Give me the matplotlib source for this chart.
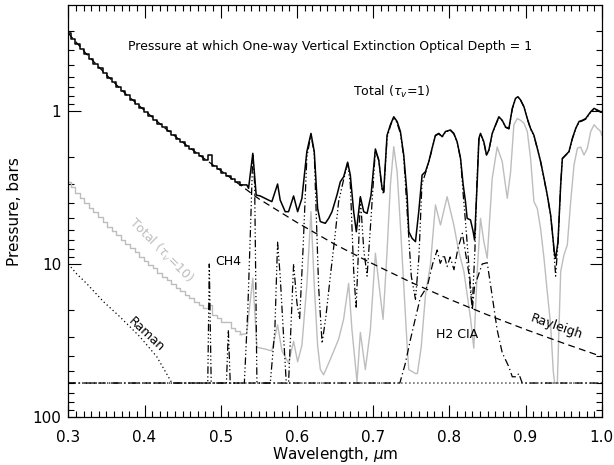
import matplotlib
matplotlib.use("Agg")
import matplotlib.pyplot as plt
from matplotlib.ticker import FixedLocator, FixedFormatter, NullFormatter

# ---- short-wave grid (microns), drawn as steps ----
blue_wl = [0.300, 0.306, 0.312, 0.318, 0.324, 0.330, 0.336, 0.342, 0.348, 0.354,
           0.360, 0.366, 0.372, 0.378, 0.384, 0.390, 0.396, 0.402, 0.408, 0.414,
           0.420, 0.426, 0.432, 0.438, 0.444, 0.450, 0.456, 0.462, 0.468, 0.474,
           0.480, 0.486, 0.492, 0.498, 0.504, 0.510, 0.516, 0.522, 0.528]
total_blue = [0.31, 0.336, 0.363, 0.392, 0.423, 0.456, 0.490, 0.527, 0.565, 0.606,
              0.649, 0.694, 0.741, 0.790, 0.843, 0.897, 0.954, 1.01, 1.08, 1.14,
              1.21, 1.28, 1.36, 1.44, 1.52, 1.60, 1.69, 1.78, 1.88, 1.98,
              2.08, 1.94, 2.30, 2.41, 2.54, 2.66, 2.79, 2.92, 3.04]
total10_blue = [2.9, 3.16, 3.41, 3.68, 3.98, 4.29, 4.6, 4.95, 5.3, 5.7,
                6.1, 6.5, 7.0, 7.4, 7.9, 8.4, 9.0, 9.5, 10.1, 10.7,
                11.4, 12.1, 12.8, 13.5, 14.3, 15.0, 15.9, 16.7, 17.7, 18.6,
                19.5, 18.5, 21.6, 22.7, 23.9, 24.0, 26.2, 27.5, 28.8]

# ---- total, tau_v = 1 (long-wave part) ----
total_wl = [0.5255, 0.5343, 0.5365, 0.5421, 0.5465, 0.5518, 0.5627, 0.5671, 0.5746, 0.578,
            0.5846, 0.589, 0.5956, 0.6009, 0.6065, 0.613, 0.6184, 0.6227, 0.6271, 0.6306,
            0.6372, 0.6416, 0.646, 0.6525, 0.6569, 0.6613, 0.6665, 0.670, 0.6744, 0.6779,
            0.6832, 0.6876, 0.692, 0.6972, 0.7029, 0.7073, 0.7117, 0.7138, 0.7182, 0.7226,
            0.727, 0.7314, 0.7357, 0.7401, 0.7445, 0.7467, 0.7511, 0.7555, 0.7598, 0.7642,
            0.7686, 0.773, 0.7773, 0.7817, 0.7861, 0.7905, 0.7949, 0.8014, 0.8058, 0.8102,
            0.8146, 0.8181, 0.8211, 0.8233, 0.8277, 0.8312, 0.833, 0.8365, 0.8387, 0.8408,
            0.8452, 0.8487, 0.8518, 0.8562, 0.8606, 0.8649, 0.8693, 0.8737, 0.8781, 0.8825,
            0.8868, 0.8899, 0.8934, 0.8978, 0.9022, 0.9065, 0.9109, 0.9153, 0.9197, 0.9241,
            0.9284, 0.9328, 0.9363, 0.9381, 0.9394, 0.9425, 0.946, 0.9482, 0.9525, 0.9569,
            0.9613, 0.9657, 0.9701, 0.9744, 0.9788, 0.9854, 0.9898, 0.9941, 0.9985, 1.0]
total_p = [3.04, 3.04, 3.20, 1.89, 3.54, 3.59, 3.82, 3.91, 3.00, 3.82,
           4.55, 4.55, 3.59, 4.55, 3.72, 1.84, 1.40, 1.84, 4.33, 5.28,
           5.42, 5.03, 4.55, 3.54, 2.90, 2.69, 2.16, 2.62, 4.55, 6.15,
           3.63, 4.55, 4.67, 3.54, 1.77, 2.09, 3.20, 3.37, 1.44, 1.23,
           1.09, 1.17, 1.36, 1.94, 3.54, 6.15, 6.80, 7.14, 4.55, 2.62,
           2.49, 2.14, 1.75, 1.44, 1.40, 1.47, 1.36, 1.33, 1.40, 1.59,
           2.04, 3.04, 3.91, 5.03, 5.15, 6.15, 6.97, 2.90, 1.51, 1.40,
           1.59, 1.94, 1.80, 1.40, 1.23, 1.09, 1.15, 1.27, 1.30, 0.961,
           0.826, 0.806, 0.847, 0.937, 1.12, 1.30, 1.44, 1.75, 2.14, 2.75,
           3.54, 4.78, 7.14, 8.73, 9.18, 7.14, 3.04, 2.04, 1.94, 1.84,
           1.51, 1.30, 1.17, 1.15, 1.12, 1.01, 0.961, 0.985, 1.01, 1.01]

# ---- total, tau_v = 10 (long-wave part) ----
total10_wl = [0.5255, 0.534, 0.5421, 0.5474, 0.5584, 0.567, 0.5746, 0.5803, 0.589, 0.5956,
              0.6009, 0.6065, 0.613, 0.6184, 0.6227, 0.6271, 0.6307, 0.635, 0.6438, 0.6547,
              0.6612, 0.6678, 0.6722, 0.6788, 0.6832, 0.6897, 0.6963, 0.7029, 0.7094, 0.713,
              0.7182, 0.7226, 0.727, 0.7314, 0.7357, 0.7401, 0.7445, 0.7467, 0.7511, 0.7555,
              0.758, 0.763, 0.7686, 0.7751, 0.7817, 0.7883, 0.797, 0.8058, 0.8124, 0.819,
              0.8277, 0.832, 0.8365, 0.8408, 0.8452, 0.8496, 0.8562, 0.8627, 0.8693, 0.8759,
              0.8803, 0.8846, 0.889, 0.8934, 0.8978, 0.9022, 0.9065, 0.9109, 0.9153, 0.9197,
              0.9241, 0.9284, 0.9328, 0.9363, 0.9381, 0.9416, 0.946, 0.9503, 0.9547, 0.9591,
              0.9635, 0.9679, 0.9722, 0.9766, 0.981, 0.9854, 0.9898, 0.9941, 0.9985, 1.0]
total10_p = [29, 28.5, 12.4, 35, 36, 37, 25, 37, 44.5, 32,
             43.6, 34, 13.7, 4.55, 13.7, 34, 49, 53, 42, 31,
             23, 13.4, 27, 59, 28, 49, 27, 8.5, 16.3, 23,
             8.3, 3.04, 1.71, 2.49, 5.56, 13.7, 33.8, 49, 50.5, 52,
             52, 35, 16, 10.1, 4.11, 5.56, 3.63, 5.56, 8.30, 11.2,
             22.6, 35.5, 11.2, 5.03, 7.14, 9.18, 2.75, 1.72, 2.14, 3.72,
             2.49, 1.23, 1.12, 1.15, 1.20, 1.36, 2.04, 3.91, 4.33, 5.9,
             9.18, 15.2, 25, 50.5, 60, 60, 11.2, 8.73, 7.51, 3.91,
             2.25, 1.75, 1.72, 1.94, 1.75, 1.36, 1.23, 1.30, 1.36, 1.44]

# ---- single-opacity-source curves ----
rayleigh_wl = [0.30, 0.325, 0.35, 0.375, 0.40, 0.425, 0.45, 0.475, 0.50, 0.55,
               0.60, 0.65, 0.70, 0.75, 0.80, 0.85, 0.90, 0.95, 1.00]
rayleigh_p = [0.31, 0.43, 0.58, 0.77, 0.99, 1.27, 1.60, 1.99, 2.45, 3.75,
              5.35, 7.45, 10.0, 13.2, 17.0, 21.5, 26.8, 33.0, 40.3]

raman_wl = [0.300, 0.311, 0.324, 0.346, 0.368, 0.394, 0.416, 0.436, 1.0]
raman_p = [10.0, 11.6, 13.4, 17.6, 22.2, 29.9, 40.3, 60, 60]

ch4_wl = [0.300, 0.483, 0.485, 0.4875, 0.5075, 0.510, 0.5125, 0.531, 0.5355, 0.539,
          0.5421, 0.5445, 0.5475, 0.565, 0.571, 0.5746, 0.578, 0.582, 0.586, 0.589,
          0.5956, 0.600, 0.6035, 0.608, 0.613, 0.6184, 0.6227, 0.626, 0.6284, 0.633,
          0.638, 0.6438, 0.650, 0.6547, 0.6613, 0.6665, 0.670, 0.6744, 0.6776, 0.680,
          0.6832, 0.6876, 0.692, 0.6972, 0.7029, 0.7073, 0.7117, 0.7138, 0.7182, 0.7226,
          0.727, 0.7314, 0.7357, 0.7401, 0.7445, 0.750, 0.7555, 0.760, 0.764, 0.7686,
          0.773, 0.7773, 0.7817, 0.7861, 0.7905, 0.7949, 0.8014, 0.8058, 0.8102, 0.8146,
          0.8181, 0.822, 0.826, 0.830, 0.8335, 0.836, 0.8387, 0.8408, 0.8452, 0.8487,
          0.8518, 0.8562, 0.8606, 0.8649, 0.8693, 0.8737, 0.8781, 0.8825, 0.8868, 0.8899,
          0.8934, 0.8978, 0.9022, 0.9065, 0.9109, 0.9153, 0.9197, 0.9241, 0.9284, 0.9328,
          0.9363, 0.9394, 0.9425, 0.946, 0.9482, 0.9525, 0.9569, 0.9613, 0.9657, 0.9701,
          0.9744, 0.9788, 0.9854, 0.9898, 0.9941, 0.9985, 1.0]
ch4_p = [60, 60, 10, 60, 60, 27, 60, 60, 20, 6,
         1.9, 3.0, 60, 60, 27, 7.2, 12, 27, 60, 60,
         10, 18, 23, 8, 2.0, 1.42, 1.9, 6, 14, 33,
         22, 12, 6.5, 3.9, 2.8, 2.2, 3.0, 11, 19.5, 10,
         3.7, 8, 12, 5, 1.8, 2.1, 3.3, 3.5, 1.5, 1.25,
         1.1, 1.2, 1.4, 2.0, 4.5, 12, 17, 9, 3.0, 2.55,
         2.16, 1.77, 1.45, 1.41, 1.48, 1.37, 1.34, 1.41, 1.6, 2.05,
         3.5, 6, 11, 19, 8, 3.0, 1.55, 1.42, 1.6, 1.95,
         1.81, 1.41, 1.24, 1.1, 1.16, 1.28, 1.31, 0.97, 0.83, 0.81,
         0.85, 0.94, 1.13, 1.31, 1.45, 1.76, 2.15, 2.77, 3.56, 4.8,
         7.2, 12, 7.2, 3.05, 2.05, 1.95, 1.85, 1.52, 1.31, 1.18,
         1.16, 1.13, 1.02, 0.97, 0.99, 1.02, 1.02]

cia_wl = [0.300, 0.735, 0.742, 0.749, 0.756, 0.762, 0.771, 0.778, 0.784, 0.788,
          0.793, 0.797, 0.801, 0.806, 0.811, 0.817, 0.8255, 0.830, 0.833, 0.843,
          0.8496, 0.856, 0.8627, 0.8693, 0.878, 0.8825, 0.888, 0.891, 0.8955, 1.0]
cia_p = [60, 60, 45, 31, 22, 16.5, 14, 10, 8.1, 9.9,
         8.7, 10.4, 9.0, 10.9, 8.0, 6.3, 11.5, 20, 14, 10,
         9.8, 16, 27, 38, 47, 54.6, 54.6, 52, 60, 60]

x_major = [0.3, 0.4, 0.5, 0.6, 0.7, 0.8, 0.9, 1.0]
x_major_labels = ["0.3", "0.4", "0.5", "0.6", "0.7", "0.8", "0.9", "1.0"]
y_major = [1, 10, 100]
y_major_labels = ["1", "10", "100"]

plt.rcParams['font.family'] = ['DejaVu Sans']
fig = plt.figure(figsize=(6.14, 4.65), dpi=100)
ax = fig.add_axes([0.1112, 0.1026, 0.869, 0.8864])

gray = '#bdbdbd'
ax.plot(blue_wl, total10_blue, color=gray, lw=1.0, drawstyle='steps-mid')
ax.plot(total10_wl, total10_p, color=gray, lw=1.0)

ax.plot(raman_wl, raman_p, color='black', lw=0.9, linestyle=(0, (1, 2.2)))
ax.plot(cia_wl, cia_p, color='black', lw=0.9, linestyle=(0, (6, 2.5, 1, 2.5)))
ax.plot(ch4_wl, ch4_p, color='black', lw=0.9,
        linestyle=(0, (6, 2, 1, 2, 1, 2, 1, 2)))
ax.plot(rayleigh_wl, rayleigh_p, color='black', lw=0.9, linestyle=(0, (5.5, 3.5)))

ax.plot(blue_wl, total_blue, color='black', lw=1.1, drawstyle='steps-mid')
ax.plot(total_wl, total_p, color='black', lw=1.1)

ax.set_yscale('log')
ax.set_xlim(0.3, 1.0)
ax.set_ylim(100.5, 0.203)

ax.xaxis.set_major_locator(FixedLocator(x_major))
ax.xaxis.set_major_formatter(FixedFormatter(x_major_labels))
ax.xaxis.set_minor_locator(FixedLocator([0.3 + 0.01 * i for i in range(71)]))
ax.yaxis.set_major_locator(FixedLocator(y_major))
ax.yaxis.set_major_formatter(FixedFormatter(y_major_labels))
ax.yaxis.set_minor_locator(FixedLocator([m * d for d in (0.1, 1, 10) for m in range(2, 10)]))
ax.yaxis.set_minor_formatter(NullFormatter())

ax.tick_params(which='both', direction='in', top=True, right=True, width=0.8)
ax.tick_params(which='major', length=9, labelsize=11)
ax.tick_params(axis='x', which='major', pad=9)
ax.tick_params(axis='y', which='major', pad=5)
ax.tick_params(which='minor', length=4.5)
for sp in ax.spines.values():
    sp.set_linewidth(0.9)

ax.set_xlabel(r'Wavelength, $\mu$m', fontsize=11)
ax.set_ylabel('Pressure, bars', fontsize=11)
ax.xaxis.set_label_coords(0.5, -0.068)
ax.yaxis.set_label_coords(-0.087, 0.5)

ax.text(0.643, 0.38, 'Pressure at which One-way Vertical Extinction Optical Depth = 1',
        ha='center', va='center', fontsize=9)
ax.text(0.725, 0.746, r'Total ($\tau_v$=1)', ha='center', va='center', fontsize=9)
ax.text(0.422, 8.2, r'Total ($\tau_v$=10)', ha='center', va='center', fontsize=9,
        color=gray, rotation=-45, rotation_mode='anchor')
ax.text(0.402, 29, 'Raman', ha='center', va='center', fontsize=9, rotation=-43,
        rotation_mode='anchor')
ax.text(0.4927, 9.7, 'CH4', ha='left', va='center', fontsize=9)
ax.text(0.810, 29, 'H2 CIA', ha='center', va='center', fontsize=9)
ax.text(0.9406, 25.8, 'Rayleigh', ha='center', va='center', fontsize=9, rotation=-19,
        rotation_mode='anchor')

fig.savefig('out.png', dpi=100)
